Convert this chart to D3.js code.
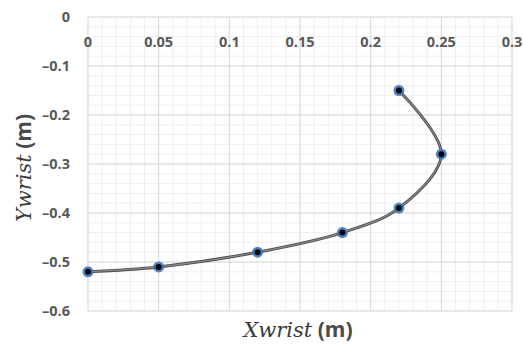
<!DOCTYPE html>
<html>
<head>
<meta charset="utf-8">
<script src="https://cdn.jsdelivr.net/npm/d3@7"></script>
<style>
  html, body { margin: 0; padding: 0; background: #fff; }
  svg { display: block; }
</style>
</head>
<body>
<svg id="chart" width="523" height="345"></svg>
<script>
// Wrist trajectory samples (metres)
const xwrist = [0, 0.05, 0.12, 0.18, 0.22, 0.25, 0.22];
const ywrist = [-0.52, -0.51, -0.48, -0.44, -0.39, -0.28, -0.15];
const xTicks = [0, 0.05, 0.1, 0.15, 0.2, 0.25, 0.3];
const yTicks = [0, -0.1, -0.2, -0.3, -0.4, -0.5, -0.6];

(function () {
const svg = d3.select("#chart");
const plotL = 88, plotR = 512, plotT = 17, plotB = 311;

const x = d3.scaleLinear().domain([0, 0.3]).range([plotL, plotR]);
const y = d3.scaleLinear().domain([0, -0.6]).range([plotT, plotB]);

const defs = svg.append("defs");
const f = defs.append("filter").attr("id", "soft").attr("x", "-50%").attr("y", "-50%").attr("width", "200%").attr("height", "200%");
f.append("feGaussianBlur").attr("stdDeviation", 0.7);

// Minor grid
const g = svg.append("g");
g.selectAll(".vx-minor").data(d3.range(0, 31).map(i => i / 100))
  .join("line")
  .attr("x1", d => x(d)).attr("x2", d => x(d))
  .attr("y1", plotT).attr("y2", plotB)
  .attr("stroke", "#efefef").attr("stroke-width", 1);
g.selectAll(".hy-minor").data(d3.range(0, 31).map(i => -i / 50))
  .join("line")
  .attr("x1", plotL).attr("x2", plotR)
  .attr("y1", d => y(d)).attr("y2", d => y(d))
  .attr("stroke", "#efefef").attr("stroke-width", 1);

// Major grid
g.selectAll(".vx-major").data(xTicks)
  .join("line")
  .attr("x1", d => x(d)).attr("x2", d => x(d))
  .attr("y1", plotT).attr("y2", plotB)
  .attr("stroke", "#d9d9d9").attr("stroke-width", 1);
g.selectAll(".hy-major").data(yTicks)
  .join("line")
  .attr("x1", plotL).attr("x2", plotR)
  .attr("y1", d => y(d)).attr("y2", d => y(d))
  .attr("stroke", "#d9d9d9").attr("stroke-width", 1);

const fmt = v => v === 0 ? "0" : (v < 0 ? "\u2013" : "") + String(Math.abs(v));

// X tick labels sit just below the top edge
svg.append("g").selectAll("text").data(xTicks).join("text")
  .attr("x", d => x(d)).attr("y", 47)
  .attr("text-anchor", "middle")
  .attr("font-family", "'Open Sans', 'DejaVu Sans', sans-serif")
  .attr("font-weight", 700).attr("font-size", 14.5).attr("fill", "#595959")
  .text(d => fmt(d));

// Y tick labels
svg.append("g").selectAll("text").data(yTicks).join("text")
  .attr("x", 70).attr("y", d => y(d) + 5)
  .attr("text-anchor", "end")
  .attr("font-family", "'Open Sans', 'DejaVu Sans', sans-serif")
  .attr("font-weight", 700).attr("font-size", 14.5).attr("fill", "#595959")
  .text(d => fmt(d));

// Smoothed trajectory
const pts = xwrist.map((v, i) => [v, ywrist[i]]);
const line = d3.line().x(d => x(d[0])).y(d => y(d[1])).curve(d3.curveCatmullRom.alpha(0.5));
svg.append("path").datum(pts)
  .attr("d", line).attr("fill", "none")
  .attr("stroke", "#4a4a4a").attr("stroke-width", 3);
svg.append("path").datum(pts)
  .attr("d", line).attr("fill", "none")
  .attr("stroke", "#8a8a8a").attr("stroke-width", 1.2);

// Markers
const m = svg.append("g");
m.selectAll(".halo").data(pts).join("circle")
  .attr("cx", d => x(d[0])).attr("cy", d => y(d[1])).attr("r", 5.5)
  .attr("fill", "#3f76b8").attr("opacity", 0.9).attr("filter", "url(#soft)");
m.selectAll(".dot").data(pts).join("circle")
  .attr("cx", d => x(d[0])).attr("cy", d => y(d[1])).attr("r", 3)
  .attr("fill", "#05050d");

// Axis titles
const xt = svg.append("text")
  .attr("x", 298).attr("y", 337).attr("text-anchor", "middle")
  .attr("font-size", 21).attr("fill", "#3a3a3a");
xt.append("tspan").attr("font-family", "'DejaVu Serif', 'Liberation Serif', serif")
  .attr("font-style", "italic").text("Xwrist");
xt.append("tspan").attr("font-family", "'Open Sans', 'DejaVu Sans', sans-serif")
  .attr("font-weight", 700).attr("fill", "#4a4a4a").text(" (m)");

const yt = svg.append("text")
  .attr("transform", "translate(31,168) rotate(-90)").attr("text-anchor", "middle")
  .attr("font-size", 21).attr("fill", "#3a3a3a");
yt.append("tspan").attr("font-family", "'DejaVu Serif', 'Liberation Serif', serif")
  .attr("font-style", "italic").text("Ywrist");
yt.append("tspan").attr("font-family", "'Open Sans', 'DejaVu Sans', sans-serif")
  .attr("font-weight", 700).attr("fill", "#4a4a4a").text(" (m)");
})();
</script>
</body>
</html>
